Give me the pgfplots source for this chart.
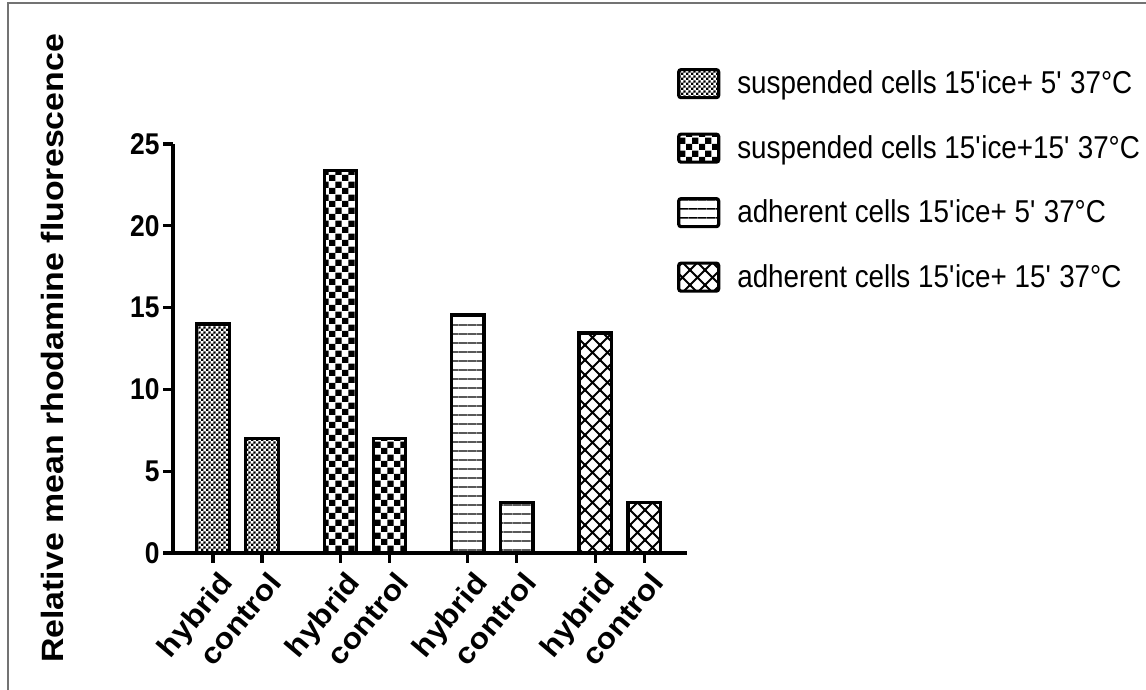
\documentclass[border=0pt]{standalone}
\usepackage{fontspec}
\setmainfont{Liberation Sans}[FakeStretch=0.88]
\newfontfamily\ylabfont{Liberation Sans}[FakeStretch=1.1]
\usepackage{pgfplots}
\pgfplotsset{compat=1.18}
\usetikzlibrary{patterns}

\pgfdeclarepatternformonly{finechecker}{\pgfqpoint{0pt}{0pt}}{\pgfqpoint{2.4pt}{2.4pt}}{\pgfqpoint{2.4pt}{2.4pt}}{%
  \pgfpathrectangle{\pgfqpoint{0pt}{0pt}}{\pgfqpoint{1.2pt}{1.2pt}}%
  \pgfpathrectangle{\pgfqpoint{1.2pt}{1.2pt}}{\pgfqpoint{1.2pt}{1.2pt}}%
  \pgfusepath{fill}}
\pgfdeclarepatternformonly{coarsechecker}{\pgfqpoint{0pt}{0pt}}{\pgfqpoint{6.6pt}{6.6pt}}{\pgfqpoint{6.6pt}{6.6pt}}{%
  \pgfpathrectangle{\pgfqpoint{0pt}{0pt}}{\pgfqpoint{3.3pt}{3.3pt}}%
  \pgfpathrectangle{\pgfqpoint{3.3pt}{3.3pt}}{\pgfqpoint{3.3pt}{3.3pt}}%
  \pgfusepath{fill}}
\pgfdeclarepatternformonly{hlines}{\pgfqpoint{0pt}{0pt}}{\pgfqpoint{4.25pt}{4.25pt}}{\pgfqpoint{4.25pt}{4.25pt}}{%
  \pgfsetlinewidth{0.75pt}%
  \pgfpathmoveto{\pgfqpoint{-0.2pt}{2.1pt}}%
  \pgfpathlineto{\pgfqpoint{4.45pt}{2.1pt}}%
  \pgfusepath{stroke}}
\pgfdeclarepatternformonly{diaghatch}{\pgfqpoint{-1pt}{-1pt}}{\pgfqpoint{8.5pt}{8.5pt}}{\pgfqpoint{7.5pt}{7.5pt}}{%
  \pgfsetlinewidth{1pt}%
  \pgfpathmoveto{\pgfqpoint{-0.5pt}{-0.5pt}}%
  \pgfpathlineto{\pgfqpoint{8pt}{8pt}}%
  \pgfpathmoveto{\pgfqpoint{-0.5pt}{8pt}}%
  \pgfpathlineto{\pgfqpoint{8pt}{-0.5pt}}%
  \pgfusepath{stroke}}

\pgfplotsset{
  mybar/.style={ybar, bar width=0.66, bar shift=0pt, draw=black, line width=1.6pt,
    legend image code/.code={\draw[##1, line width=1.6pt, rounded corners=1.2pt] (0pt,-7pt) rectangle (20pt,7pt);}},
}

\begin{document}
\begin{tikzpicture}
\useasboundingbox (0,0) rectangle (573pt,345pt);
\draw[black!55, line width=0.7pt] (4pt,0) -- (4pt,343.5pt) -- (573pt,343.5pt);
\begin{axis}[
  at={(86.5pt,68.5pt)}, anchor=south west,
  scale only axis, width=257pt, height=204.5pt,
  xmin=-0.816, xmax=9.673, ymin=0, ymax=25,
  axis lines=left, axis line style={-, line width=1.6pt},
  tick style={black, line width=1.6pt}, tick align=outside, major tick length=5pt,
  ytick={0,5,10,15,20,25},
  xtick={0,1,2.6,3.6,5.2,6.2,7.8,8.8},
  xticklabels={hybrid,control,hybrid,control,hybrid,control,hybrid,control},
  /pgf/number format/assume math mode=true,
  yticklabel style={font=\bfseries\fontsize{15}{15}\selectfont, inner sep=1.5pt},
  xticklabel style={rotate=50, anchor=north east, font=\ylabfont\bfseries\fontsize{14.6}{15}\selectfont, inner sep=1pt, yshift=-3pt},
  ylabel={Relative mean rhodamine fluorescence},
  ylabel style={at={(axis description cs:-0.235,0.5)}, anchor=center, font=\ylabfont\bfseries\fontsize{15.4}{16}\selectfont},
  legend cell align=left,
  legend style={at={(axis description cs:0.98,1.19)}, anchor=north west, draw=none, fill=none,
    inner sep=0pt, row sep=15.3pt, font=\fontsize{15.8}{16}\selectfont,
    /tikz/every odd column/.style={column sep=6.5pt}},
]
\addplot[mybar, pattern=finechecker] coordinates {(0,14.0) (1,7.0)};
\addlegendentry{suspended cells 15\textquotesingle ice+ 5\textquotesingle{} 37°C}
\addplot[mybar, pattern=coarsechecker] coordinates {(2.6,23.4) (3.6,7.0)};
\addlegendentry{suspended cells 15\textquotesingle ice+15\textquotesingle{} 37°C}
\addplot[mybar, pattern=hlines] coordinates {(5.2,14.55) (6.2,3.1)};
\addlegendentry{adherent cells 15\textquotesingle ice+ 5\textquotesingle{} 37°C}
\addplot[mybar, pattern=diaghatch] coordinates {(7.8,13.45) (8.8,3.1)};
\addlegendentry{adherent cells 15\textquotesingle ice+ 15\textquotesingle{} 37°C}
\end{axis}
\end{tikzpicture}
\end{document}
